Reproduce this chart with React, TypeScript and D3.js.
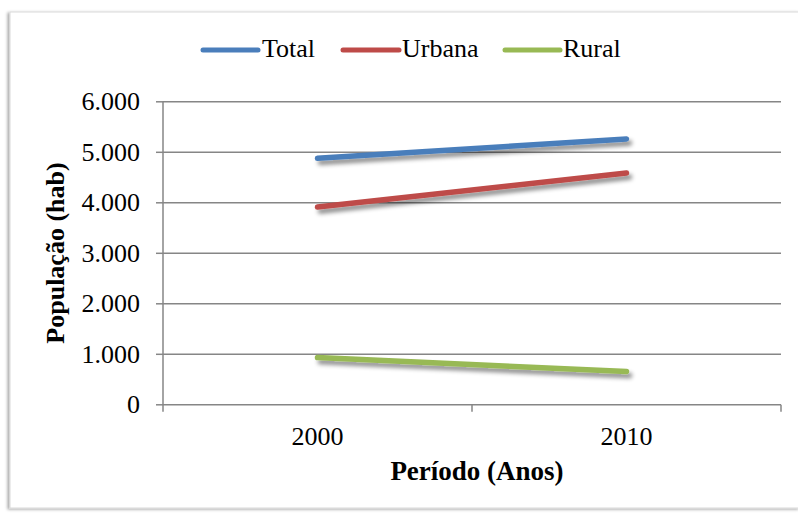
import React from "react";
import * as d3 from "d3";

const categories = ["2000", "2010"];
const seriesNames = ["Total", "Urbana", "Rural"];
const totalValues = [4880, 5265];
const urbanaValues = [3915, 4590];
const ruralValues = [935, 660];
const yTicks = [0, 1000, 2000, 3000, 4000, 5000, 6000];
const colors = ["#4a7ebb", "#be4b48", "#98b954"];

const W = 798;
const H = 513;
const plot = { left: 163, right: 781, top: 101.8, bottom: 404.8 };
const FONT = '"Liberation Serif", "Times New Roman", serif';

export default function App() {
  const x = d3.scaleBand().domain(categories).range([plot.left, plot.right]);
  const y = d3.scaleLinear().domain([0, 6000]).range([plot.bottom, plot.top]);
  const series = [totalValues, urbanaValues, ruralValues];
  const line = d3
    .line<number>()
    .x((_, i) => (x(categories[i]) as number) + x.bandwidth() / 2)
    .y((d) => y(d));
  const fmt = (v: number) => d3.format(",")(v).replace(/,/g, ".");
  const ts: React.CSSProperties = { fontFamily: FONT };
  const legendItems = [
    { x1: 203, x2: 258, tx: 262 },
    { x1: 343, x2: 399, tx: 402 },
    { x1: 505, x2: 560, tx: 563 },
  ];
  const xTickPos = [plot.left, plot.left + x.bandwidth(), plot.right];

  return (
    <svg width={W} height={H} style={{ position: "absolute", left: 0, top: 0, background: "#fff" }}>
      <defs>
        <filter id="sh" x="-10%" y="-50%" width="120%" height="300%">
          <feDropShadow dx="3" dy="4" stdDeviation="2.2" floodColor="#000" floodOpacity="0.45" />
        </filter>
        <filter id="frame" x="-5%" y="-5%" width="110%" height="110%">
          <feDropShadow dx="-2" dy="1" stdDeviation="1.5" floodColor="#000" floodOpacity="0.35" />
        </filter>
      </defs>
      <rect x={10} y={12} width={790} height={496} fill="#fff" stroke="#d9d9d9" strokeWidth={1} filter="url(#frame)" />
      {seriesNames.map((name, i) => (
        <g key={name}>
          <line x1={legendItems[i].x1} x2={legendItems[i].x2} y1={50} y2={50} stroke={colors[i]} strokeWidth={5} strokeLinecap="round" />
          <text x={legendItems[i].tx} y={57} fontSize={26} fill="#000" style={ts}>
            {name}
          </text>
        </g>
      ))}
      {yTicks.map((t) => (
        <g key={t}>
          {t > 0 && <line x1={plot.left} x2={plot.right} y1={y(t)} y2={y(t)} stroke="#868686" strokeWidth={1.5} />}
          <line x1={156} x2={plot.left} y1={y(t)} y2={y(t)} stroke="#868686" strokeWidth={1.5} />
          <text x={140} y={y(t) + 8.2} fontSize={26} textAnchor="end" fill="#000" style={ts}>
            {fmt(t)}
          </text>
        </g>
      ))}
      <line x1={plot.left} x2={plot.left} y1={plot.top} y2={plot.bottom} stroke="#868686" strokeWidth={1.5} />
      <line x1={plot.left} x2={plot.right} y1={plot.bottom} y2={plot.bottom} stroke="#868686" strokeWidth={1.5} />
      {xTickPos.map((p, i) => (
        <line key={i} x1={p} x2={p} y1={plot.bottom} y2={plot.bottom + 7} stroke="#868686" strokeWidth={1.5} />
      ))}
      {categories.map((c) => (
        <text key={c} x={(x(c) as number) + x.bandwidth() / 2} y={445} fontSize={26} textAnchor="middle" fill="#000" style={ts}>
          {c}
        </text>
      ))}
      {series.map((s, i) => (
        <path key={i} d={line(s) as string} fill="none" stroke={colors[i]} strokeWidth={5.5} strokeLinecap="round" filter="url(#sh)" />
      ))}
      <text x={477} y={480} fontSize={27} fontWeight="bold" textAnchor="middle" fill="#000" style={ts}>
        Período (Anos)
      </text>
      <text transform="translate(64,253) rotate(-90)" fontSize={26} fontWeight="bold" textAnchor="middle" fill="#000" style={ts}>
        População (hab)
      </text>
    </svg>
  );
}
